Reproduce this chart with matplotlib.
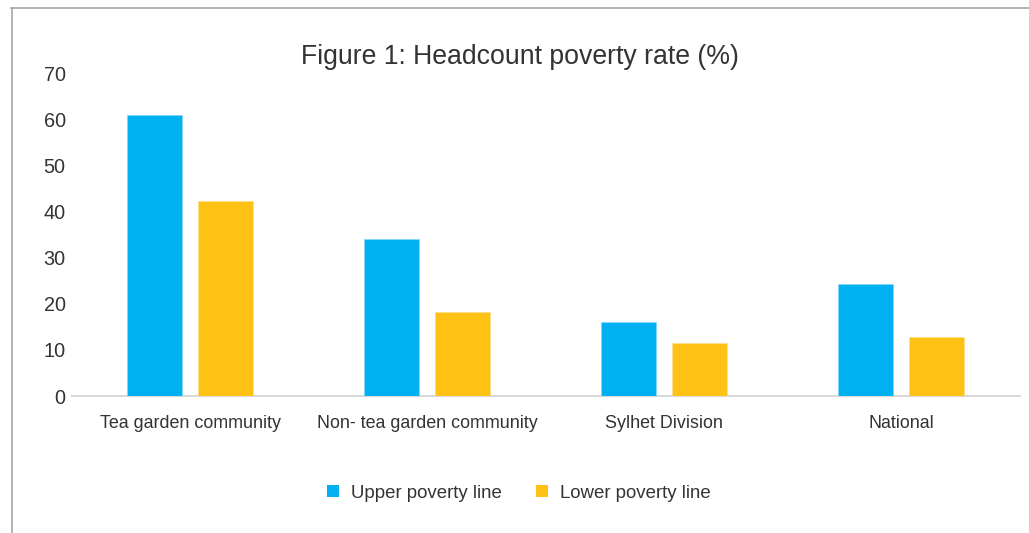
import matplotlib
matplotlib.use("Agg")
import matplotlib.pyplot as plt
import numpy as np
from matplotlib.lines import Line2D
from matplotlib.patches import Patch

categories = ["Tea garden community", "Non- tea garden community", "Sylhet Division", "National"]
upper = [61.0, 34.1, 16.1, 24.2]
lower = [42.4, 18.2, 11.4, 12.8]
series_names = ["Upper poverty line", "Lower poverty line"]
yticks = [0, 10, 20, 30, 40, 50, 60, 70]
title = "Figure 1: Headcount poverty rate (%)"

c_upper = "#00B0F0"
c_lower = "#FFC113"
txt = "#333333"

plt.rcParams['font.family'] = ['Liberation Sans', 'DejaVu Sans']

W, H = 1029, 533
fig = plt.figure(figsize=(W / 100, H / 100), dpi=100)
ax = fig.add_axes([71.5 / W, 1 - 396 / H, (1019.5 - 71.5) / W, (396 - 73.3) / H])

x = np.arange(len(categories))
bw = 0.232
off = 0.148
ax.bar(x - off, upper, bw, color=c_upper, edgecolor="#7fd6f7", linewidth=0.5, zorder=3)
ax.bar(x + off, lower, bw, color=c_lower, edgecolor="#fde08a", linewidth=0.5, zorder=3)

ax.set_xlim(-0.5, len(categories) - 0.5)
ax.set_ylim(0, 70)
ax.set_yticks(yticks)
ax.set_yticklabels([str(t) for t in yticks])
ax.set_xticks(x)
ax.set_xticklabels(categories)
ax.tick_params(axis="y", length=0, pad=4.2, labelsize=14.3, labelcolor=txt)
ax.tick_params(axis="x", length=0, pad=13.5, labelsize=12.9, labelcolor=txt)
for s in ["top", "right", "left"]:
    ax.spines[s].set_visible(False)
ax.spines["bottom"].set_color("#d9d9d9")
ax.spines["bottom"].set_linewidth(1.5)

fig.text(519.5 / W, 1 - 57.5 / H, title, ha="center", va="center", fontsize=19.2, color=txt)

handles = [Patch(facecolor=c_upper, edgecolor="none"), Patch(facecolor=c_lower, edgecolor="none")]
fig.legend(handles, series_names, loc="center", bbox_to_anchor=(519 / W, 1 - 493 / H),
           ncol=2, frameon=False, fontsize=13.4, handlelength=0.65, handleheight=0.65,
           handletextpad=0.65, columnspacing=1.83, labelcolor=txt)

# chart-area border (top and left visible)
fig.add_artist(Line2D([11 / W, 1.0], [1 - 7.5 / H, 1 - 7.5 / H], color="#a6a6a6", linewidth=1.2))
fig.add_artist(Line2D([11.5 / W, 11.5 / W], [0, 1 - 7.5 / H], color="#a6a6a6", linewidth=1.2))

fig.savefig("out.png", dpi=100)
